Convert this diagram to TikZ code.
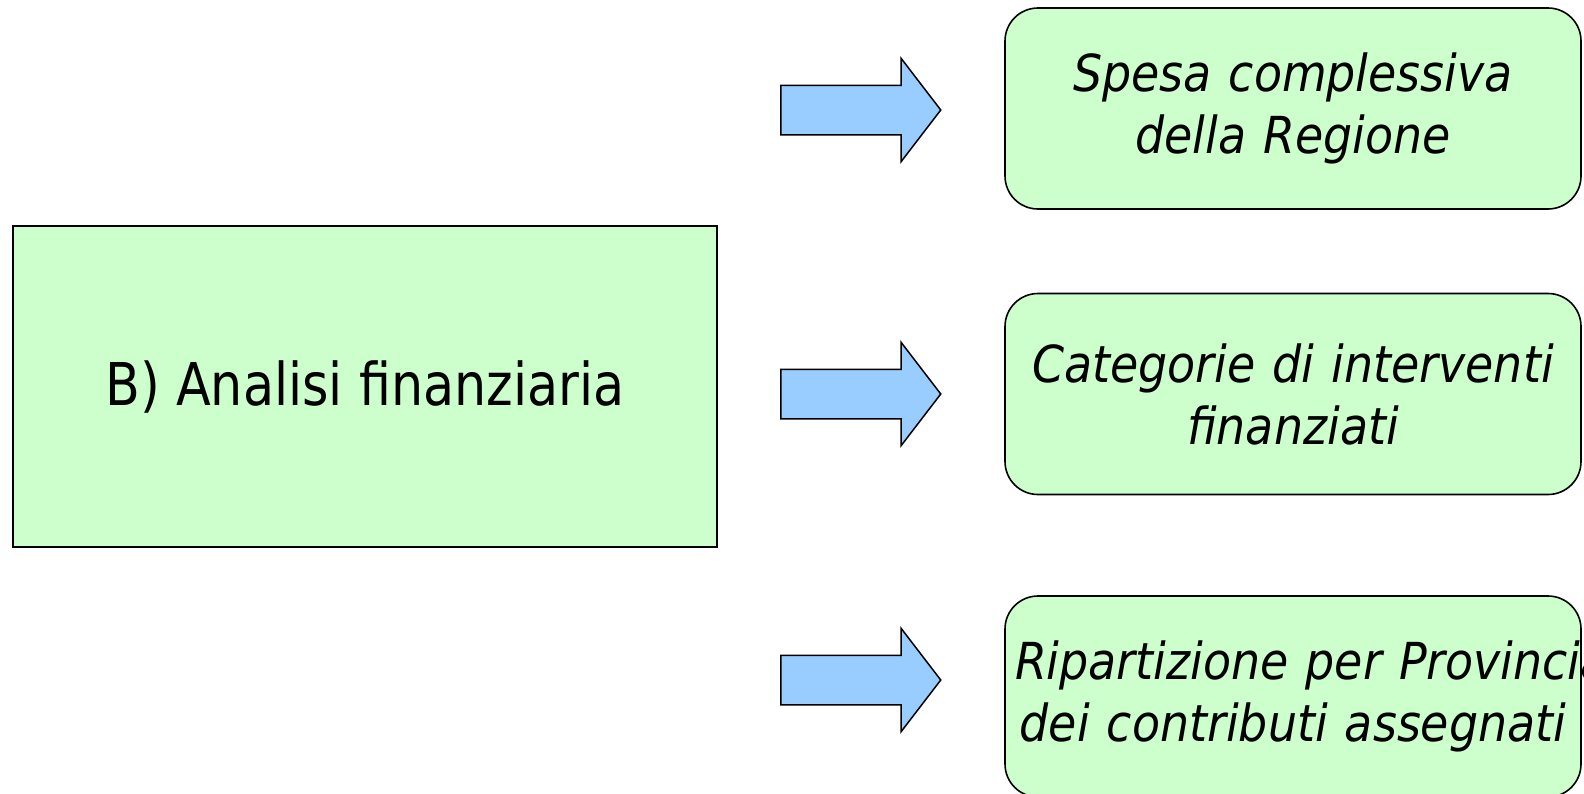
\documentclass[tikz,border=0pt]{standalone}
\usepackage{fontspec}
\setmainfont{DejaVu Sans}
\newfontfamily\titlefont[FakeStretch=0.86]{DejaVu Sans}
\newfontfamily\itemfont[FakeStretch=0.90]{DejaVu Sans}
\usetikzlibrary{shapes.arrows}
\definecolor{boxgreen}{HTML}{CCFFCC}
\definecolor{arrowblue}{HTML}{99CCFF}

\begin{document}
\begin{tikzpicture}[x=1pt, y=-1pt,
    mainbox/.style={draw, line width=1.6pt, fill=boxgreen, minimum width=704pt, minimum height=321pt, inner sep=0pt, font=\titlefont\fontsize{59}{70}\selectfont},
    itembox/.style={draw, line width=1.6pt, fill=boxgreen, rounded corners=33pt, text width=556pt, inner xsep=10pt, inner ysep=0pt, minimum height=201pt, align=center, font=\itemfont\itshape\fontsize{51}{62}\selectfont},
    bluearrow/.style={single arrow, draw, line width=1.5pt, fill=arrowblue, anchor=tail, minimum height=160pt, inner xsep=0pt, inner ysep=24pt, single arrow head extend=27pt, single arrow tip angle=105}]
    \path[use as bounding box] (0,0) rectangle (1584,793);
    \clip (0,0) rectangle (1584,793);

    \node[mainbox] (analisi) at (365,386.5) {B) Analisi finanziaria};

    \node[bluearrow] (arr1) at (780,110) {};
    \node[bluearrow] (arr2) at (780,394) {};
    \node[bluearrow] (arr3) at (780,680) {};

    \node[itembox] (spesa) at (1293,108.5) {Spesa complessiva\\ della Regione};
    \node[itembox] (categorie) at (1293,394) {Categorie di interventi\\ finanziati};
    \node[itembox] (province) at (1293,696.5) {\mbox{Ripartizione per Provincia}\\ dei contributi assegnati};
  \end{tikzpicture}
\end{document}
